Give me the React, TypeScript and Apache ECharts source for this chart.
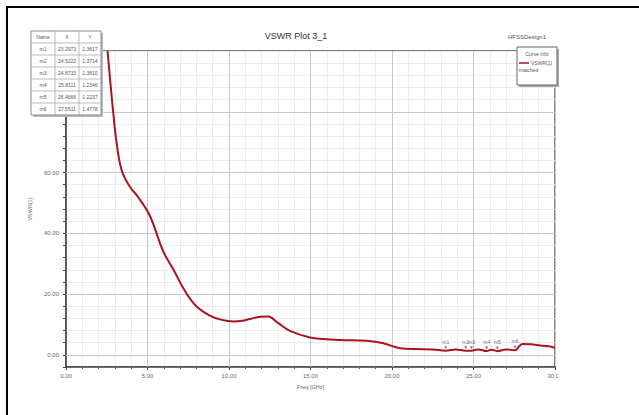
import React, { useEffect, useRef } from "react";
import * as echarts from "echarts";

// Curve: VSWR vs frequency (GHz)
const freq = [2.55, 2.75, 2.9, 3.1, 3.42, 3.9, 4.44, 5.15, 5.97, 6.6, 7.3, 8.0, 8.83, 9.5, 10.27, 10.8, 11.29, 11.9, 12.4, 13.0, 13.74, 14.97, 15.8, 16.8, 18.45, 19.47, 20.5, 21.5, 22.5, 23.3, 23.9, 24.52, 24.87, 25.3, 25.81, 26.1, 26.47, 27.0, 27.55, 27.8, 28.0, 28.5, 29.1, 29.6, 30];
const vswr = [100, 88, 79.6, 70, 60.7, 55.5, 51.8, 45.7, 34, 28, 21, 16, 12.9, 11.6, 11, 11.2, 11.8, 12.5, 12.6, 10.5, 7.9, 5.7, 5.2, 4.9, 4.6, 3.8, 2.2, 1.9, 1.8, 1.36, 1.8, 1.37, 1.38, 1.8, 1.23, 1.7, 1.22, 1.8, 1.48, 2.8, 3.6, 3.5, 3.1, 2.8, 2.3];

// Markers
const markerNames = ["m1", "m2", "m3", "m4", "m5", "m6"];
const markerX = [23.2973, 24.5222, 24.8733, 25.8111, 26.4666, 27.5511];
const markerY = [1.3617, 1.3714, 1.381, 1.2346, 1.2237, 1.4778];
const tableHeader = ["Name", "X", "Y"];

// Axes
const xMajor = [5, 10, 15, 20, 25];
const yMajor = [0, 20, 40, 60, 80];
const yLabelValues = [0, 20, 40, 60]; // 80 and 100 sit under the marker table

const title = "VSWR Plot 3_1";
const designName = "HFSSDesign1";
const legendTitle = "Curve Info";
const legendCurve = "VSWR(1)";
const legendSub = "matched";

export default function App() {
  const ref = useRef<HTMLDivElement>(null);
  useEffect(() => {
    const chart = echarts.init(ref.current!, null, { renderer: "svg" });

    const tX = 31, tY = 31, rowH = 12;
    const colX = [31, 55, 79, 101];
    const tableEls: any[] = [];
    tableEls.push({ type: "rect", shape: { x: tX + 2, y: tY + 2, width: colX[3] - tX, height: rowH * 7 }, style: { fill: "#bbb" }, z: 100 });
    tableEls.push({ type: "rect", shape: { x: tX, y: tY, width: colX[3] - tX, height: rowH * 7 }, style: { fill: "#fff", stroke: "#888", lineWidth: 1 }, z: 101 });
    for (let r = 1; r < 7; r++) {
      tableEls.push({ type: "line", shape: { x1: tX, y1: tY + r * rowH, x2: colX[3], y2: tY + r * rowH }, style: { stroke: "#aaa", lineWidth: 0.8 }, z: 102 });
    }
    for (let c = 1; c < 3; c++) {
      tableEls.push({ type: "line", shape: { x1: colX[c], y1: tY, x2: colX[c], y2: tY + rowH * 7 }, style: { stroke: "#aaa", lineWidth: 0.8 }, z: 102 });
    }
    const rows = [tableHeader, ...markerNames.map((n, i) => [n, markerX[i].toFixed(4), markerY[i].toFixed(4)])];
    rows.forEach((row, r) => {
      row.forEach((txt, c) => {
        tableEls.push({
          type: "text",
          x: (colX[c] + colX[c + 1]) / 2,
          y: tY + r * rowH + rowH / 2,
          style: { text: txt, fontSize: 5, fill: "#555", align: "center", verticalAlign: "middle", fontFamily: "Arial, Liberation Sans" },
          z: 103,
        });
      });
    });

    chart.setOption({
      animation: false,
      backgroundColor: "#fff",
      grid: { left: 66, top: 51, right: 84, bottom: 48, show: true, borderColor: "#555", borderWidth: 1.5 },
      xAxis: {
        type: "value",
        min: 0,
        max: 30,
        interval: 5,
        name: "Freq [GHz]",
        nameLocation: "middle",
        nameGap: 17,
        nameTextStyle: { fontSize: 5.5, color: "#666", fontFamily: "Arial, Liberation Sans" },
        axisLine: { show: true, onZero: false, lineStyle: { color: "#444", width: 1.5 } },
        axisTick: { show: true, length: 3, lineStyle: { color: "#444" } },
        minorTick: { show: true, splitNumber: 5, length: 2, lineStyle: { color: "#555" } },
        splitLine: { show: true, lineStyle: { color: "#c8c8c8", width: 1 } },
        minorSplitLine: { show: true, lineStyle: { color: "#ececec", width: 1 } },
        axisLabel: { fontSize: 6, color: "#666", margin: 6, fontFamily: "Arial, Liberation Sans", formatter: (v: number) => v.toFixed(2) },
      },
      yAxis: {
        type: "value",
        min: -4,
        max: 100,
        interval: 4,
        name: "VSWR(1)",
        nameLocation: "middle",
        nameGap: 30,
        nameRotate: 90,
        nameTextStyle: { fontSize: 5.5, color: "#666", fontFamily: "Arial, Liberation Sans" },
        axisLine: { show: true, onZero: false, lineStyle: { color: "#444", width: 1.5 } },
        axisTick: { show: true, length: 3, lineStyle: { color: "#444" } },
        splitLine: { show: true, lineStyle: { color: "#ececec", width: 1 } },
        axisLabel: {
          fontSize: 6,
          color: "#666",
          margin: 7,
          fontFamily: "Arial, Liberation Sans",
          formatter: (v: number) => (yLabelValues.indexOf(Math.round(v)) >= 0 ? v.toFixed(2) : ""),
        },
      },
      series: [
        {
          type: "line",
          data: freq.map((f, i) => [f, vswr[i]]),
          smooth: 0.4,
          symbol: "none",
          clip: true,
          lineStyle: { color: "#a8141f", width: 2 },
          z: 5,
          markLine: {
            silent: true,
            symbol: "none",
            label: { show: false },
            lineStyle: { color: "#c8c8c8", width: 1, type: "solid" },
            data: [...yMajor.map((y) => ({ yAxis: y })), ...xMajor.map((x) => ({ xAxis: x }))],
            z: 1,
          },
        },
        {
          type: "scatter",
          data: markerNames.map((n, i) => ({ name: n, value: [markerX[i], markerY[i]] })),
          symbol: "triangle",
          symbolRotate: 180,
          symbolSize: [3, 3],
          symbolOffset: [0, -3],
          itemStyle: { color: "#555" },
          label: { show: true, position: "top", distance: 2, fontSize: 5, color: "#444", formatter: (p: any) => p.name, fontFamily: "Arial, Liberation Sans" },
          z: 6,
        },
      ],
      graphic: [
        // clip region right of the plot
        { type: "rect", shape: { x: 558, y: 88, width: 81, height: 327 }, style: { fill: "#fff" }, z: 90 },
        // page border lines
        { type: "line", shape: { x1: 6, y1: 7, x2: 639, y2: 7 }, style: { stroke: "#000", lineWidth: 2 }, z: 110 },
        { type: "line", shape: { x1: 7, y1: 6, x2: 7, y2: 415 }, style: { stroke: "#000", lineWidth: 2 }, z: 110 },
        // titles
        { type: "text", x: 296, y: 36, style: { text: title, fontSize: 9, fill: "#333", align: "center", verticalAlign: "middle", fontFamily: "Arial, Liberation Sans" }, z: 100 },
        { type: "text", x: 508, y: 37, style: { text: designName, fontSize: 6, fill: "#555", align: "left", verticalAlign: "middle", fontFamily: "Arial, Liberation Sans" }, z: 100 },
        // legend box
        { type: "rect", shape: { x: 519, y: 49, width: 40, height: 38 }, style: { fill: "#aaa" }, z: 95 },
        { type: "rect", shape: { x: 517, y: 47, width: 40, height: 38 }, style: { fill: "#fff", stroke: "#666", lineWidth: 1 }, z: 96 },
        { type: "text", x: 537, y: 54, style: { text: legendTitle, fontSize: 5, fill: "#555", align: "center", verticalAlign: "middle", fontFamily: "Arial, Liberation Sans" }, z: 97 },
        { type: "line", shape: { x1: 519, y1: 63, x2: 529, y2: 63 }, style: { stroke: "#a8141f", lineWidth: 1.5 }, z: 97 },
        { type: "text", x: 531, y: 63, style: { text: legendCurve, fontSize: 5, fill: "#555", align: "left", verticalAlign: "middle", fontFamily: "Arial, Liberation Sans" }, z: 97 },
        { type: "text", x: 519, y: 70, style: { text: legendSub, fontSize: 5, fill: "#555", align: "left", verticalAlign: "middle", fontFamily: "Arial, Liberation Sans" }, z: 97 },
        ...tableEls,
      ],
    });
    return () => chart.dispose();
  }, []);
  return <div ref={ref} style={{ position: "absolute", left: 0, top: 0, width: 639, height: 415 }} />;
}
